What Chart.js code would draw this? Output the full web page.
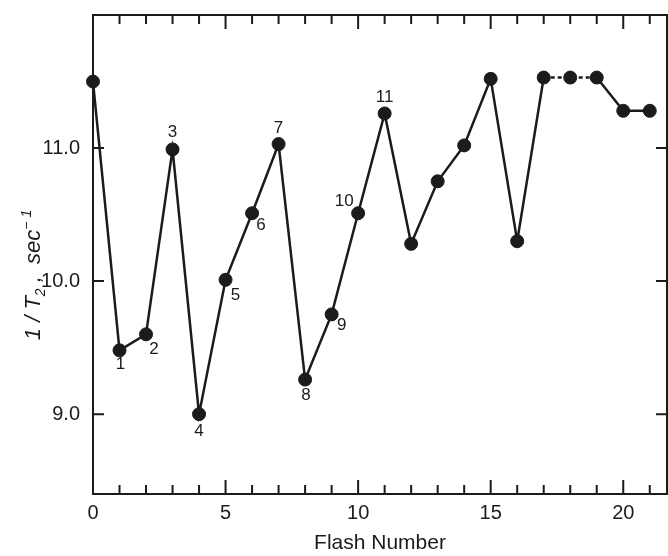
<!DOCTYPE html>
<html>
<head>
<meta charset="utf-8">
<script src="https://cdn.jsdelivr.net/npm/chart.js@4/dist/chart.umd.min.js"></script>
<style>
  html, body { margin: 0; padding: 0; background: #fff; overflow: hidden; }
  canvas { display: block; }
</style>
</head>
<body>
<canvas id="myChart" width="668" height="556"></canvas>
<script>
const flashes = [0, 1, 2, 3, 4, 5, 6, 7, 8, 9, 10, 11, 12, 13, 14, 15, 16, 17, 18, 19, 20, 21];
const rates = [11.50, 9.48, 9.60, 10.99, 9.00, 10.01, 10.51, 11.03, 9.26, 9.75, 10.51,
               11.26, 10.28, 10.75, 11.02, 11.52, 10.30, 11.53, 11.53, 11.53, 11.28, 11.28];
const xTickLabels = [0, 5, 10, 15, 20];
const yTickLabels = [9, 10, 11];
const numberedFlashes = [1, 2, 3, 4, 5, 6, 7, 8, 9, 10, 11];
const dashedFrom = [17, 18];

const ink = '#1b1b1b';
const font = 'Liberation Sans';

// where the little flash numbers sit relative to their point (px)
const numberOffsets = {
    1: [1, 14], 2: [8, 15], 3: [0, -17], 4: [0, 17], 5: [10, 16], 6: [9, 12],
    7: [0, -16], 8: [1, 16], 9: [10, 11], 10: [-14, -12], 11: [0, -16]
};

const framePlugin = {
    id: 'frame',
    beforeDatasetsDraw(chart) {
        const {ctx, chartArea: a, scales: {x, y}} = chart;
        ctx.save();
        ctx.strokeStyle = ink;
        ctx.lineWidth = 2;
        ctx.strokeRect(a.left, a.top, a.right - a.left, a.bottom - a.top);
        ctx.beginPath();
        for (let v = 0; v <= x.max; v++) {
            const px = x.getPixelForValue(v);
            const len = v % 5 === 0 ? 14 : 9;
            ctx.moveTo(px, a.bottom); ctx.lineTo(px, a.bottom - len);
            ctx.moveTo(px, a.top); ctx.lineTo(px, a.top + len);
        }
        yTickLabels.forEach(v => {
            const py = y.getPixelForValue(v);
            ctx.moveTo(a.left, py); ctx.lineTo(a.left + 11, py);
            ctx.moveTo(a.right, py); ctx.lineTo(a.right - 11, py);
        });
        ctx.stroke();
        ctx.restore();
    },
    afterDatasetsDraw(chart) {
        const {ctx} = chart;
        const pts = chart.getDatasetMeta(0).data;
        ctx.save();
        ctx.fillStyle = ink;
        ctx.textAlign = 'center';
        ctx.textBaseline = 'middle';
        ctx.font = '17px "' + font + '"';
        numberedFlashes.forEach(n => {
            const i = flashes.indexOf(n);
            const off = numberOffsets[n];
            ctx.fillText(String(n), pts[i].x + off[0], pts[i].y + off[1]);
        });

        // y axis title with sub/superscript: 1/T2, sec-1
        const parts = [
            {t: '1 / T', size: 22, dy: 0},
            {t: '2', size: 14, dy: 5},
            {t: ' ,  sec', size: 22, dy: 0},
            {t: '\u2212 1', size: 14, dy: -9}
        ];
        let total = 0;
        parts.forEach(p => {
            ctx.font = 'italic ' + p.size + 'px "' + font + '"';
            p.w = ctx.measureText(p.t).width;
            total += p.w;
        });
        ctx.translate(32, 275);
        ctx.rotate(-Math.PI / 2);
        ctx.textAlign = 'left';
        ctx.textBaseline = 'alphabetic';
        let cx = -total / 2;
        parts.forEach(p => {
            ctx.font = 'italic ' + p.size + 'px "' + font + '"';
            ctx.fillText(p.t, cx, 8 + p.dy);
            cx += p.w;
        });
        ctx.restore();
    }
};

new Chart(document.getElementById('myChart'), {
    type: 'line',
    data: {
        datasets: [{
            data: flashes.map((f, i) => ({x: f, y: rates[i]})),
            borderColor: ink,
            borderWidth: 2.5,
            pointRadius: 6.5,
            pointBackgroundColor: ink,
            pointBorderColor: ink,
            pointBorderWidth: 1,
            tension: 0,
            clip: false,
            segment: {
                borderDash: c => dashedFrom.includes(flashes[c.p0DataIndex]) ? [4, 3] : undefined
            }
        }]
    },
    options: {
        responsive: false,
        animation: false,
        devicePixelRatio: 1,
        layout: {autoPadding: false, padding: {top: 15, right: 1, left: 0, bottom: 0}},
        plugins: {legend: {display: false}, tooltip: {enabled: false}},
        scales: {
            x: {
                type: 'linear',
                min: 0,
                max: 21.65,
                grid: {display: false, drawTicks: false},
                border: {display: false},
                afterBuildTicks: s => { s.ticks = xTickLabels.map(v => ({value: v})); },
                afterFit: s => { s.height = 62; s.paddingLeft = 0; s.paddingRight = 0; },
                ticks: {
                    padding: 7,
                    color: ink,
                    font: {family: font, size: 20},
                    callback: v => String(v)
                },
                title: {
                    display: true,
                    text: 'Flash Number',
                    color: ink,
                    font: {family: font, size: 21},
                    padding: {top: 0, bottom: 0}
                }
            },
            y: {
                min: 8.4,
                max: 12.0,
                grid: {display: false, drawTicks: false},
                border: {display: false},
                afterBuildTicks: s => { s.ticks = yTickLabels.map(v => ({value: v})); },
                afterFit: s => { s.width = 93; s.paddingTop = 0; s.paddingBottom = 0; },
                ticks: {
                    padding: 13,
                    color: ink,
                    font: {family: font, size: 20},
                    callback: v => v.toFixed(1)
                }
            }
        }
    },
    plugins: [framePlugin]
});
</script>
</body>
</html>
